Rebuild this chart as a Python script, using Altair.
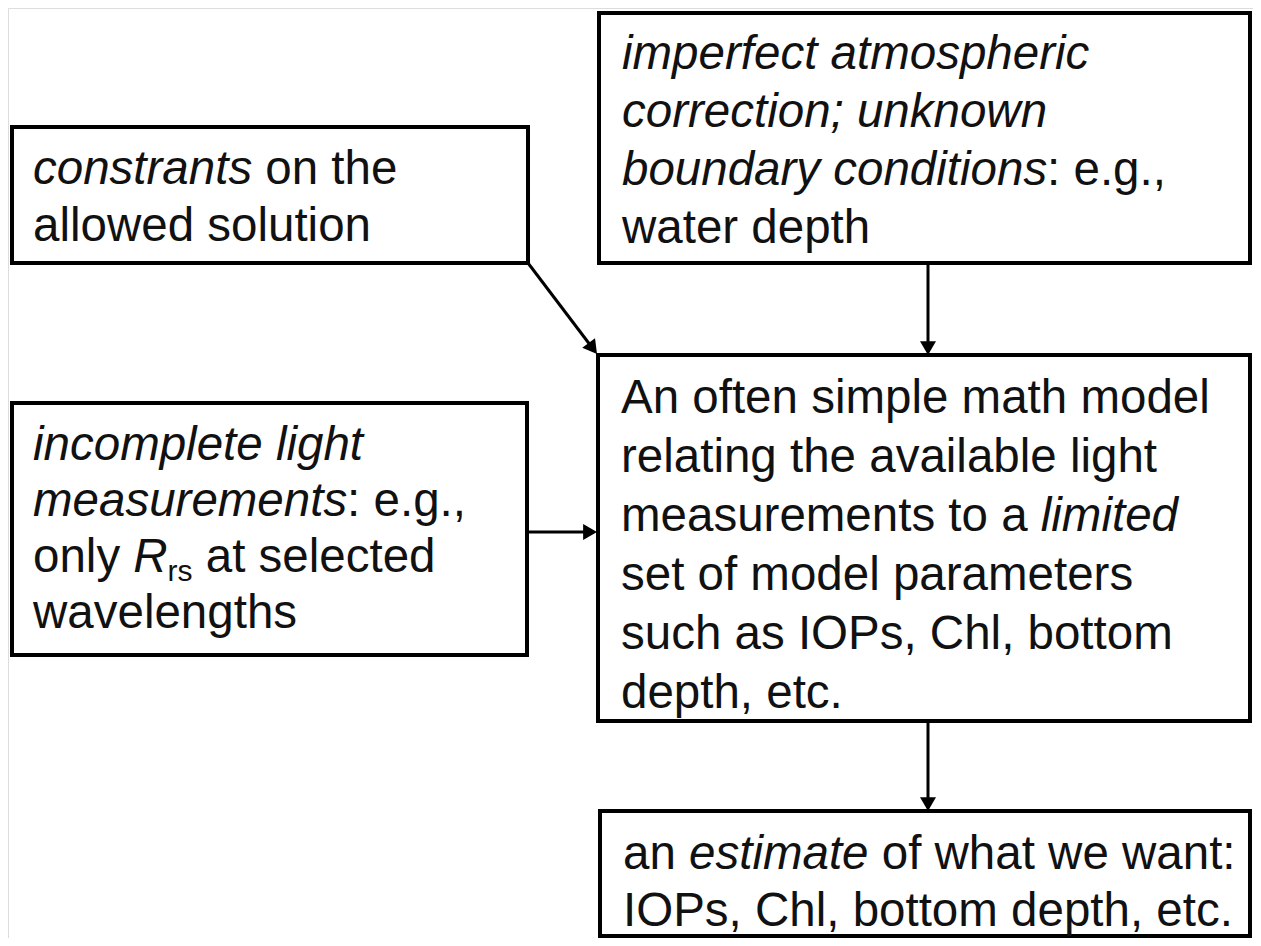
import math
import altair as alt
import pandas as pd

# ---------------- data ----------------
# boxes (reference pixel coordinates)
box_x0 = [12, 599, 12, 598, 600]
box_x1 = [528, 1250, 527, 1250, 1250]
box_y0 = [127, 13, 403, 355, 811]
box_y1 = [263, 263, 655, 721, 936]

# text origin of each box and line spacing
text_x = [33, 622, 33, 621, 623]
first_baseline = [184, 69, 460, 413, 869]
line_gap = [57, 58, 56, 59, 57]

# text lines: segments of (text, style) ; n = normal, i = italic, s = subscript
box_lines = [
    [
        [("constrants", "i"), (" on the", "n")],
        [("allowed solution", "n")],
    ],
    [
        [("imperfect atmospheric", "i")],
        [("correction; unknown", "i")],
        [("boundary conditions", "i"), (": e.g.,", "n")],
        [("water depth", "n")],
    ],
    [
        [("incomplete light", "i")],
        [("measurements", "i"), (": e.g.,", "n")],
        [("only ", "n"), ("R", "i"), ("rs", "s"), (" at selected", "n")],
        [("wavelengths", "n")],
    ],
    [
        [("An often simple math model", "n")],
        [("relating the available light", "n")],
        [("measurements to a ", "n"), ("limited", "i")],
        [("set of model parameters", "n")],
        [("such as IOPs, Chl, bottom", "n")],
        [("depth, etc.", "n")],
    ],
    [
        [("an ", "n"), ("estimate", "i"), (" of what we want:", "n")],
        [("IOPs, Chl, bottom depth, etc.", "n")],
    ],
]

# arrows: start and tip
arrow_x0 = [528, 928, 527, 928]
arrow_y0 = [263, 263, 532, 721]
arrow_x1 = [597, 928, 597, 928]
arrow_y1 = [354, 355, 532, 811]

# ---------------- styles ----------------
FONT = "Liberation Sans"
FS = 47.5
SUB_FS = 30
SUB_DY = 9
HEAD = 256  # triangle symbol area
W_PX = 1245
H_PX = 930

# Arial / Liberation Sans advance widths (1/1000 em)
W = {' ': 278, ',': 278, '.': 278, ':': 278, ';': 278,
     'a': 556, 'b': 556, 'c': 500, 'd': 556, 'e': 556, 'f': 278, 'g': 556,
     'h': 556, 'i': 222, 'j': 222, 'k': 500, 'l': 222, 'm': 833, 'n': 556,
     'o': 556, 'p': 556, 'q': 556, 'r': 333, 's': 500, 't': 278, 'u': 556,
     'v': 500, 'w': 722, 'x': 500, 'y': 500, 'z': 500,
     'A': 667, 'C': 722, 'I': 278, 'O': 778, 'P': 667, 'R': 722}


def tw(s, fs):
    return sum(W.get(c, 556) for c in s) * fs / 1000.0


rows = []
for b, lines in enumerate(box_lines):
    for j, segs in enumerate(lines):
        x = text_x[b]
        y = first_baseline[b] + j * line_gap[b]
        for txt, st in segs:
            fs = SUB_FS if st == "s" else FS
            lead = len(txt) - len(txt.lstrip(" "))
            rows.append(dict(x=x + tw(" " * lead, fs),
                             y=y + (SUB_DY if st == "s" else 0),
                             t=txt.strip(" "), st=st))
            x += tw(txt, fs)
text_df = pd.DataFrame(rows)

box_df = pd.DataFrame(dict(x0=box_x0, x1=box_x1, y0=box_y0, y1=box_y1))

arows = []
for xa, ya, xb, yb in zip(arrow_x0, arrow_y0, arrow_x1, arrow_y1):
    dx, dy = xb - xa, yb - ya
    L = math.hypot(dx, dy)
    ux, uy = dx / L, dy / L
    h = math.sqrt(3) / 2 * math.sqrt(HEAD) / 2
    cx, cy = xb - ux * h, yb - uy * h
    ang = math.degrees(math.atan2(dx, -dy)) % 360
    arows.append(dict(x0=xa, y0=ya, x1=cx, y1=cy, ang=ang))
arrow_df = pd.DataFrame(arows)

xs = alt.Scale(domain=[8, 8 + W_PX])
ys = alt.Scale(domain=[8, 8 + H_PX], reverse=True)

boxes = alt.Chart(box_df).mark_rect(fill="white", stroke="black", strokeWidth=4).encode(
    x=alt.X("x0:Q", scale=xs, axis=None), x2="x1:Q",
    y=alt.Y("y0:Q", scale=ys, axis=None), y2="y1:Q")

lines_ = alt.Chart(arrow_df).mark_rule(color="black", strokeWidth=3).encode(
    x=alt.X("x0:Q", scale=xs, axis=None), x2="x1:Q",
    y=alt.Y("y0:Q", scale=ys, axis=None), y2="y1:Q")

heads = alt.Chart(arrow_df).mark_point(shape="triangle-up", filled=True, size=HEAD,
                                       color="black", opacity=1).encode(
    x=alt.X("x1:Q", scale=xs, axis=None),
    y=alt.Y("y1:Q", scale=ys, axis=None),
    angle=alt.Angle("ang:Q", scale=None))


def text_layer(st, **kw):
    return alt.Chart(text_df[text_df.st == st]).mark_text(
        align="left", baseline="alphabetic", font=FONT, color="#111111", **kw).encode(
        x=alt.X("x:Q", scale=xs, axis=None),
        y=alt.Y("y:Q", scale=ys, axis=None),
        text="t:N")


t_n = text_layer("n", fontSize=FS)
t_i = text_layer("i", fontSize=FS, fontStyle="italic")
t_s = text_layer("s", fontSize=SUB_FS)

chart = alt.layer(lines_, heads, boxes, t_n, t_i, t_s).properties(
    width=W_PX, height=H_PX, padding=0, autosize=alt.AutoSizeParams(type="none")
).configure_view(stroke=None).configure(background="white")

chart.save("out.html", embed_options={"renderer": "svg", "actions": False})
